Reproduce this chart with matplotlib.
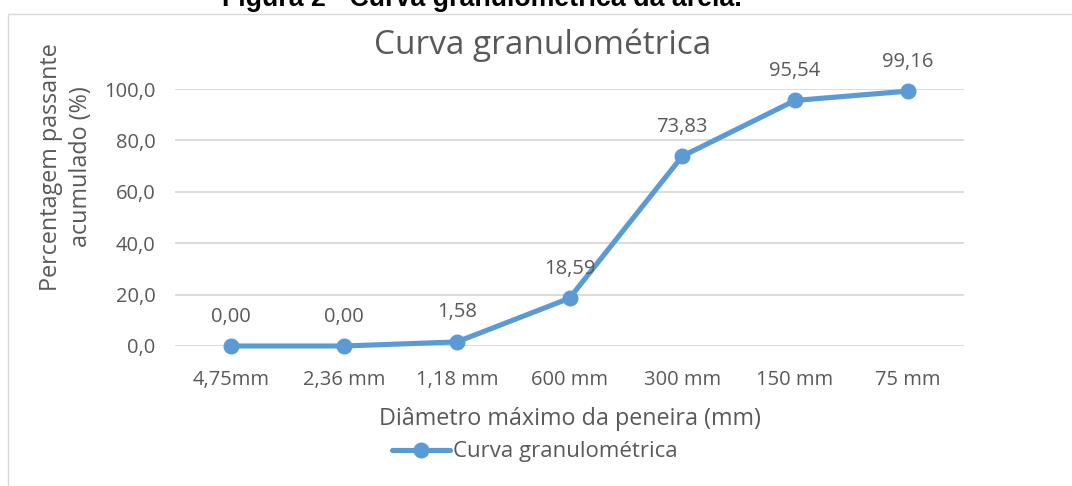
import matplotlib
matplotlib.use('agg')
import matplotlib.pyplot as plt
from matplotlib.patches import Rectangle

# sieve openings and cumulative passing
peneiras = ['4,75mm', '2,36 mm', '1,18 mm', '600 mm', '300 mm', '150 mm', '75 mm']
passante = [0.00, 0.00, 1.58, 18.59, 73.83, 95.54, 99.16]
yticks = [0, 20, 40, 60, 80, 100]

azul = '#5B9BD5'
cinza = '#595959'
plt.rcParams['font.family'] = ['Open Sans', 'DejaVu Sans']

fig = plt.figure(figsize=(10.72, 4.86), dpi=100)
ax = fig.add_axes([175 / 1072, 1 - 346 / 486, 789 / 1072, 257 / 486])

x = list(range(len(peneiras)))
ax.plot(x, passante, color=azul, lw=3.7, marker='o', ms=10.5, label='Curva granulométrica',
        solid_capstyle='round', clip_on=False)
for xi, v in zip(x, passante):
    ax.annotate(f'{v:.2f}'.replace('.', ','), (xi, v), xytext=(0, 14), textcoords='offset points',
                ha='center', va='bottom', fontsize=14.5, color=cinza)

ax.set_xlim(-0.5, len(peneiras) - 0.5)
ax.set_ylim(0, 100)
ax.set_yticks(yticks)
ax.set_yticklabels([f'{t:.1f}'.replace('.', ',') for t in yticks])
ax.set_xticks(x)
ax.set_xticklabels(peneiras)
ax.tick_params(length=0, labelsize=14.5, colors=cinza)
ax.tick_params(axis='x', pad=17.5)
ax.tick_params(axis='y', pad=14)
ax.grid(axis='y', color='#d9d9d9', lw=1.3)
ax.set_axisbelow(True)
for s in ax.spines.values():
    s.set_visible(False)

ax.set_xlabel('Diâmetro máximo da peneira (mm)', fontsize=16.8, color=cinza, labelpad=12)
fig.text(66 / 1072, 1 - 167 / 486, 'Percentagem passante\nacumulado (%)', fontsize=16.8,
         color=cinza, rotation=90, ha='center', va='center', linespacing=1.35)
fig.text(543 / 1072, 1 - 45 / 486, 'Curva granulométrica', fontsize=24, color=cinza,
         ha='center', va='center')

ax.legend(loc='center', bbox_to_anchor=((535 - 175) / 789, (346 - 452) / 257), frameon=False,
          fontsize=16, labelcolor=cinza, handlelength=2.6, handletextpad=0.15)

# chart frame
fig.patches.append(Rectangle((8 / 1072, -0.1), 1.2, 1 - 14 / 486 + 0.1, transform=fig.transFigure,
                             fill=False, ec='#d9d9d9', lw=1))
fig.text(482 / 1072, 1 - 6 / 486, 'Figura 2 - Curva granulométrica da areia.', fontsize=19.3,
         fontweight='bold', family='Liberation Sans', ha='center', va='baseline')

fig.savefig('out.png', dpi=100)
